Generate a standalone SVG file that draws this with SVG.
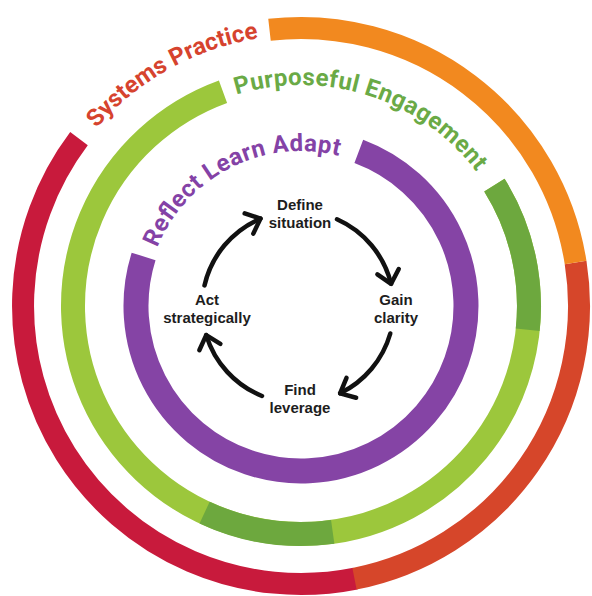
<svg xmlns="http://www.w3.org/2000/svg" width="592" height="596" viewBox="0 0 592 596">
  <style>
    .band { fill: none; stroke-linecap: butt; }
    .outer { stroke-width: 22; }
    .mid { stroke-width: 24; }
    .inner { stroke-width: 25; }
    .ring-title { font-family: Roboto, "Liberation Sans", sans-serif; font-weight: 700; font-size: 24px; }
    .step { font-family: "Liberation Sans", Arial, sans-serif; font-weight: 700; font-size: 15px; fill: #1d1d1d; text-anchor: middle; }
    .cycle { fill: none; stroke: #111; stroke-width: 4.5; stroke-linecap: round; }
  </style>
  <defs>
    <marker id="chevron" markerUnits="userSpaceOnUse" markerWidth="34" markerHeight="34" viewBox="-17 -17 34 34" refX="0" refY="0" orient="auto">
      <path d="M -12.5 -11 L 0 0 L -12.5 11" fill="none" stroke="#111" stroke-width="4.5" stroke-linecap="round" stroke-linejoin="round"/>
    </marker>
    <!-- baselines for the curved ring titles, centre (301,306) -->
    <path id="arc-systems" d="M 96.5 128.2 A 271 271 0 0 1 258.6 38.3"/>
    <path id="arc-engagement" d="M 236.4 94.7 A 221 221 0 0 1 477.5 173"/>
    <path id="arc-reflect" d="M 157.3 247.9 A 155 155 0 0 1 341.1 156.3"/>
  </defs>

  <!-- outer ring: Systems Practice -->
  <g id="ring-systems">
    <path class="band outer" stroke="#c81a3c" d="M 355.5 578.6 A 278 278 0 0 1 79.0 138.7"/>
    <path class="band outer" stroke="#d6462a" d="M 575.6 262.5 A 278 278 0 0 1 354.5 578.8"/>
    <path class="band outer" stroke="#f2891f" d="M 269.5 29.8 A 278 278 0 0 1 575.6 262.5"/>
    <text class="ring-title" fill="#d6432e"><textPath href="#arc-systems" textLength="189" lengthAdjust="spacing">Systems Practice</textPath></text>
  </g>

  <!-- middle ring: Purposeful Engagement -->
  <g id="ring-engagement">
    <path class="band mid" stroke="#9cc73c" d="M 494.4 185.2 A 228 228 0 1 1 223 91.7"/>
    <path class="band mid" stroke="#6da83e" d="M 494.4 185.2 A 228 228 0 0 1 527.7 329.8"/>
    <path class="band mid" stroke="#6da83e" d="M 332.7 531.8 A 228 228 0 0 1 204.6 512.6"/>
    <text class="ring-title" fill="#6aaa46"><textPath href="#arc-engagement" textLength="268" lengthAdjust="spacing">Purposeful Engagement</textPath></text>
  </g>

  <!-- inner ring: Reflect Learn Adapt -->
  <g id="ring-reflect">
    <path class="band inner" stroke="#8544a5" d="M 358.8 151.4 A 165 165 0 1 1 143.6 256.4"/>
    <text class="ring-title" fill="#8442a6"><textPath href="#arc-reflect" textLength="222" lengthAdjust="spacing">Reflect Learn Adapt</textPath></text>
  </g>

  <!-- cycle steps -->
  <g id="node-define">
    <text class="step" x="300" y="210">Define</text>
    <text class="step" x="300" y="228">situation</text>
  </g>
  <g id="node-gain">
    <text class="step" x="396" y="305">Gain</text>
    <text class="step" x="396" y="323">clarity</text>
  </g>
  <g id="node-find">
    <text class="step" x="300" y="395">Find</text>
    <text class="step" x="300" y="413">leverage</text>
  </g>
  <g id="node-act">
    <text class="step" x="207" y="305">Act</text>
    <text class="step" x="207" y="323">strategically</text>
  </g>

  <!-- connectors: clockwise arcs around (298,307), r 96 -->
  <g id="connectors">
    <path class="cycle" marker-end="url(#chevron)" d="M 337.0 219.3 A 96 96 0 0 1 391.1 283.8"/>
    <path class="cycle" marker-end="url(#chevron)" d="M 390.3 333.5 A 96 96 0 0 1 340.1 393.3"/>
    <path class="cycle" marker-end="url(#chevron)" d="M 262.0 396.0 A 96 96 0 0 1 206.2 335.1"/>
    <path class="cycle" marker-end="url(#chevron)" d="M 204.5 285.4 A 96 96 0 0 1 260.5 218.6"/>
  </g>
</svg>
